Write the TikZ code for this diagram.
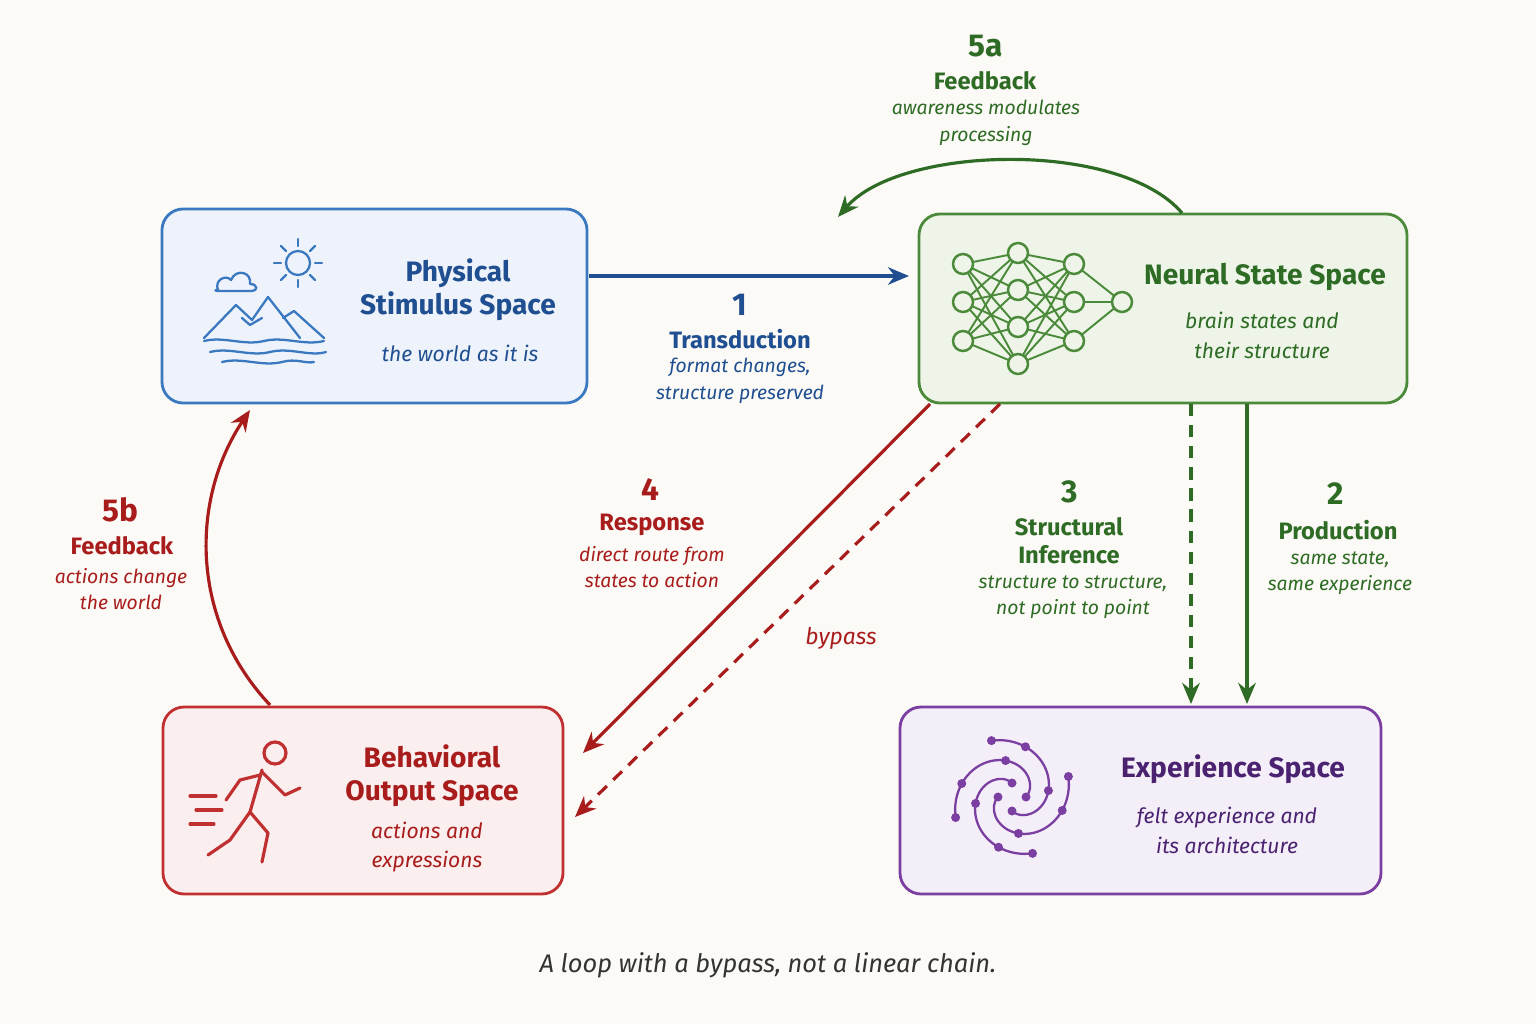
\documentclass[tikz,border=0pt]{standalone}
\usepackage{fontspec}
\setmainfont{Fira Sans}
\usetikzlibrary{arrows.meta}
\definecolor{bl}{HTML}{3A78C0}\definecolor{blf}{HTML}{EEF3FB}\definecolor{bld}{HTML}{1F4F90}
\definecolor{gr}{HTML}{4A8A3A}\definecolor{grf}{HTML}{EEF5E8}\definecolor{grd}{HTML}{2E6B24}
\definecolor{rd}{HTML}{C03030}\definecolor{rdf}{HTML}{FBEEEE}\definecolor{rdd}{HTML}{A81C1C}
\definecolor{pu}{HTML}{7A3FA0}\definecolor{puf}{HTML}{F3EEF8}\definecolor{pud}{HTML}{4A2270}
\definecolor{bg}{HTML}{FBFAF6}
\begin{document}
\begin{tikzpicture}[x=0.02cm,y=-0.02cm,
 box/.style={rounded corners=12pt,line width=1.6pt},
 ttl/.style={font=\fontsize{16}{19}\selectfont\bfseries,align=center},
 sub/.style={font=\fontsize{12}{17}\selectfont\itshape,align=center},
 num/.style={font=\fontsize{18}{20}\selectfont\bfseries},
 lab/.style={font=\fontsize{13.5}{16}\selectfont\bfseries,align=center},
 sml/.style={font=\fontsize{11}{15}\selectfont\itshape,align=center},
 arr/.style={line width=1.8pt,-{Stealth[length=12pt,width=10pt]}},
 dsh/.style={arr,dash pattern=on 7pt off 5pt}]
\fill[bg] (0,0) rectangle (1536,1024);
\useasboundingbox (0,0) rectangle (1536,1024);
% boxes
\draw[box,draw=bl,fill=blf] (162,209) rectangle (587,403);
\draw[box,draw=gr,fill=grf] (919,214) rectangle (1407,403);
\draw[box,draw=rd,fill=rdf] (163,707) rectangle (563,894);
\draw[box,draw=pu,fill=puf] (900,707) rectangle (1381,894);
\coordinate (P) at (589,276); \coordinate (N) at (909,276);
% box texts
\node[ttl,text=bld] (pt) at (458,290) {Physical\\Stimulus Space};
\node[sub,text=bld] (ps) at (460,353) {the world as it is};
\node[ttl,text=grd] (nt) at (1265,277) {Neural State Space};
\node[sub,text=grd] (ns) at (1262,335) {brain states and\\their structure};
\node[ttl,text=rdd] (bt) at (432,776) {Behavioral\\Output Space};
\node[sub,text=rdd] (bs) at (427,847) {actions and\\expressions};
\node[ttl,text=pud] (et) at (1233,769) {Experience Space};
\node[sub,text=pud] (es) at (1227,830) {felt experience and\\its architecture};
% physical icon
\begin{scope}[draw=bl,line width=1.3pt,line cap=round,line join=round]
\draw (298,263) circle (12);
\foreach \a in {0,45,...,315}{\draw (298,263)++(\a:17) -- ++(\a:7);}
\draw (218,290) .. controls (214,280) and (226,274) .. (231,280) .. controls (236,268) and (252,272) .. (250,284) .. controls (258,284) and (258,291) .. (252,291) -- (221,291) .. controls (214,291) and (214,290) .. (218,290);
\draw (204,338) -- (236,305) -- (252,320) -- (268,297) -- (300,338);
\draw (283,318) -- (294,311) -- (324,338);
\draw (242,318) -- (250,325) -- (262,318);
\draw (204,341) .. controls (224,336) and (244,346) .. (264,341) .. controls (284,336) and (304,346) .. (324,341);
\draw (210,352) .. controls (230,347) and (250,357) .. (270,352) .. controls (290,347) and (310,357) .. (326,352);
\draw (222,362) .. controls (242,357) and (262,367) .. (282,362) .. controls (296,358) and (306,364) .. (314,362);
\end{scope}
% neural net
\foreach \i/\y in {1/264,2/302,3/341}{\coordinate (a\i) at (963,\y); \coordinate (c\i) at (1074,\y);}
\foreach \i/\y in {1/253,2/290,3/327,4/364}{\coordinate (b\i) at (1018,\y);}
\coordinate (o) at (1122,302);
\begin{scope}[draw=gr,line width=1.1pt]
\foreach \i in {1,2,3}{\foreach \j in {1,2,3,4}{\draw (a\i)--(b\j); \draw (b\j)--(c\i);}\draw (c\i)--(o);}
\end{scope}
\foreach \p in {a1,a2,a3,b1,b2,b3,b4,c1,c2,c3,o}{\draw[gr,fill=grf,line width=1.4pt] (\p) circle (10);}
% runner
\begin{scope}[draw=rd,line width=1.8pt,line cap=round,line join=round]
\draw (275,753) circle (11);
\draw (262,770) -- (250,812);
\draw (262,772) -- (285,795) -- (300,788);
\draw (260,775) -- (240,780) -- (226,800);
\draw (250,812) -- (268,833) -- (262,862);
\draw (250,812) -- (230,840) -- (208,855);
\draw (190,796) -- (216,796); \draw (196,810) -- (222,810); \draw (190,824) -- (214,824);
\end{scope}
% spiral
\begin{scope}[pu,line width=1.3pt]
\foreach \r in {0,90,180,270}{
 \draw[domain=0:200,smooth,variable=\t] plot ({1012+(14+0.23*\t)*cos(\t+\r)},{797-(14+0.23*\t)*sin(\t+\r)});
 \fill ({1012+14*cos(\r)},{797-14*sin(\r)}) circle (4.5);
 \fill ({1012+37*cos(100+\r)},{797-37*sin(100+\r)}) circle (4.5);
 \fill ({1012+60*cos(200+\r)},{797-60*sin(200+\r)}) circle (4.5);
 \fill ({1012+52*cos(165+\r)},{797-52*sin(165+\r)}) circle (4.5);
}
\end{scope}
% arrows
\draw[arr,draw=bld] (P) -- (N);
\coordinate (n5a) at (1182,213); \coordinate (p5a) at (838,217);
\draw[arr,draw=grd] (n5a) .. controls (1120,140) and (900,145) .. (p5a);
\coordinate (r1) at (930,404); \coordinate (r2) at (583,753);
\draw[arr,draw=rdd] (r1) -- (r2);
\coordinate (d1) at (1000,404); \coordinate (d2) at (575,817);
\draw[dsh,draw=rdd] (d1) -- (d2);
\coordinate (s1) at (1191,404); \coordinate (s2) at (1191,704);
\draw[dsh,draw=grd] (s1) -- (s2);
\coordinate (q1) at (1247,404); \coordinate (q2) at (1247,704);
\draw[arr,draw=grd] (q1) -- (q2);
\coordinate (f1) at (270,705); \coordinate (f2) at (250,410);
\draw[arr,draw=rdd] (f1) .. controls (190,620) and (190,500) .. (f2);
% arrow labels
\node[num,text=bld] (l1) at (740,305) {1};
\node[lab,text=bld] (l1t) at (740,339) {Transduction};
\node[sml,text=bld] (l1s) at (740,381) {format changes,\\structure preserved};
\node[num,text=grd] (l5a) at (986,46) {5a};
\node[lab,text=grd] (l5at) at (985,81) {Feedback};
\node[sml,text=grd] (l5as) at (986,123) {awareness modulates\\processing};
\node[num,text=rdd] (l4) at (650,490) {4};
\node[lab,text=rdd] (l4t) at (652,525) {Response};
\node[sml,text=rdd] (l4s) at (652,567) {direct route from\\states to action};
\node[font=\fontsize{13}{15}\selectfont\itshape,text=rdd] (lb) at (841,638) {bypass};
\node[num,text=grd] (l3) at (1070,492) {3};
\node[lab,text=grd] (l3t) at (1069,541) {Structural\\Inference};
\node[sml,text=grd] (l3s) at (1073,597) {structure to structure,\\not point to point};
\node[num,text=grd] (l2) at (1336,494) {2};
\node[lab,text=grd] (l2t) at (1338,530) {Production};
\node[sml,text=grd] (l2s) at (1340,573) {same state,\\same experience};
\node[num,text=rdd] (l5b) at (120,510) {5b};
\node[lab,text=rdd] (l5bt) at (122,546) {Feedback};
\node[sml,text=rdd] (l5bs) at (121,589) {actions change\\the world};
\node[font=\fontsize{14.5}{17}\selectfont\itshape,text=black!80] (cap) at (768,965) {A loop with a bypass, not a linear chain.};
\end{tikzpicture}
\end{document}
